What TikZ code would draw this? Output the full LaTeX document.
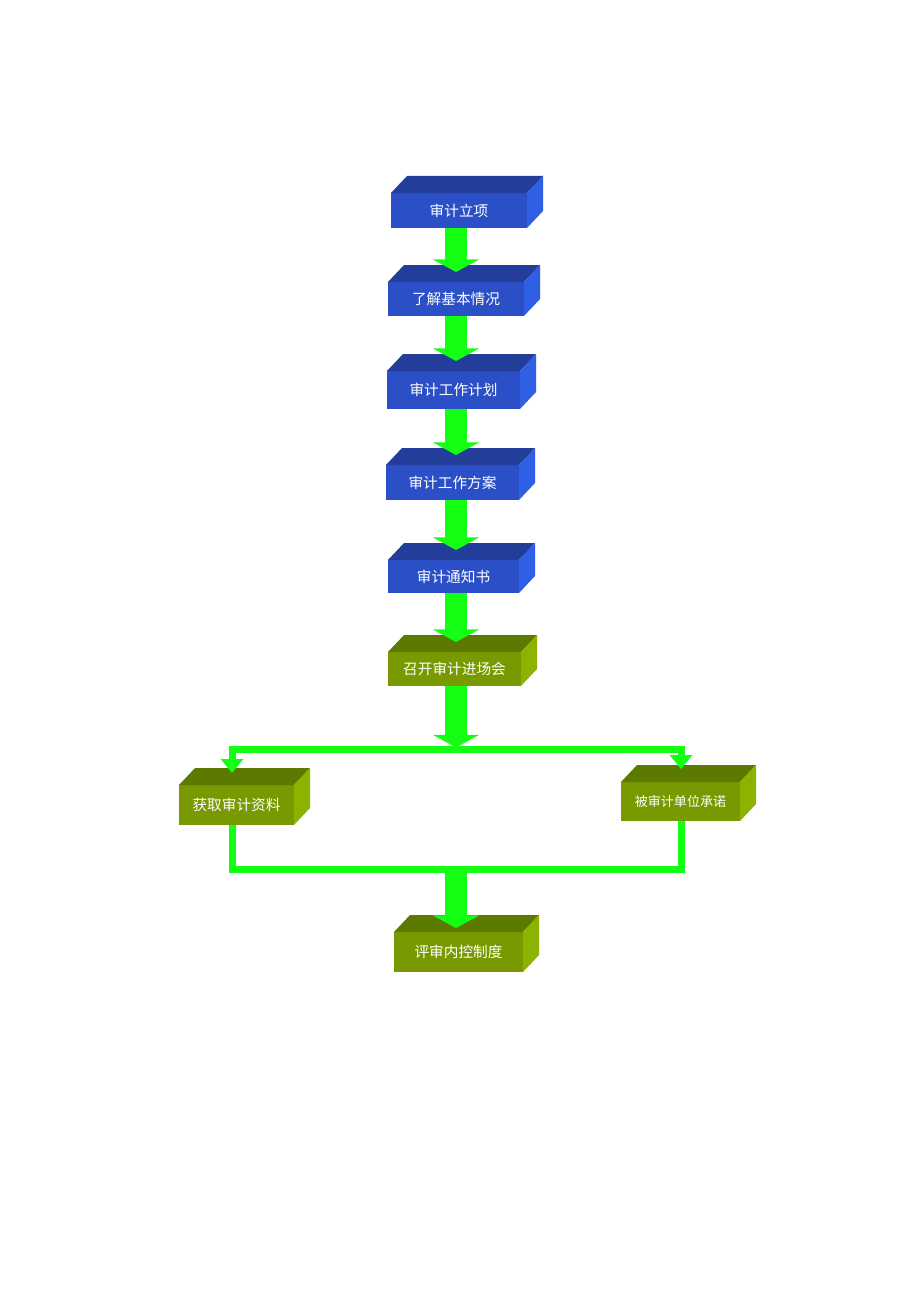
\documentclass[tikz,border=0pt]{standalone}
\usepackage{fontspec}
\newfontfamily\cjk{Noto Sans CJK SC}
\usetikzlibrary{calc,arrows.meta}
\definecolor{bfront}{HTML}{2B4FC6}
\definecolor{btop}{HTML}{223D9A}
\definecolor{bside}{HTML}{2F5FE4}
\definecolor{gfront}{HTML}{789A00}
\definecolor{gtop}{HTML}{5D7A00}
\definecolor{gside}{HTML}{8BB300}
\definecolor{agreen}{HTML}{14FF14}
\tikzset{
  front/.style={inner sep=0pt, outer sep=0pt, text=white, font=\cjk\fontsize{11pt}{13pt}\selectfont},
  bluebox/.style={front, fill=bfront},
  greenbox/.style={front, fill=gfront},
  bigarrow/.style={draw=agreen, line width=16.5pt, -{Triangle[width=34.5pt,length=9.5pt]}},
  conn/.style={draw=agreen, line width=5.25pt, line join=miter},
  connarrow/.style={conn, -{Triangle[width=16.5pt,length=10.5pt]}}
}
\newcommand\cubefaces[3]{%
  \fill[#2] (#1.north west) -- ++(16,-17) -- ($(#1.north east)+(16,-17)$) -- (#1.north east) -- cycle;
  \fill[#3] (#1.north east) -- ++(16,-17) -- ($(#1.south east)+(16,-17)$) -- (#1.south east) -- cycle;
}
\begin{document}
\begin{tikzpicture}[x=0.75pt,y=-0.75pt]
\useasboundingbox (0,0) rectangle (920,1302);
\fill[white] (0,0) rectangle (920,1302);
\coordinate (ax) at (456,0);
% boxes
\node[bluebox, minimum width=102pt, minimum height=26.25pt] (b1) at (459,210.5) {审计立项};
\cubefaces{b1}{btop}{bside}
\node[bluebox, minimum width=102pt, minimum height=25.5pt] (b2) at (456,299) {了解基本情况};
\cubefaces{b2}{btop}{bside}
\node[bluebox, minimum width=99.75pt, minimum height=28.5pt] (b3) at (453.5,390) {审计工作计划};
\cubefaces{b3}{btop}{bside}
\node[bluebox, minimum width=99.75pt, minimum height=26.25pt] (b4) at (452.5,482.5) {审计工作方案};
\cubefaces{b4}{btop}{bside}
\node[bluebox, minimum width=98.25pt, minimum height=24.75pt] (b5) at (453.5,576.5) {审计通知书};
\cubefaces{b5}{btop}{bside}
\node[greenbox, minimum width=99.75pt, minimum height=25.5pt] (b6) at (454.5,669) {召开审计进场会};
\cubefaces{b6}{gtop}{gside}
\node[greenbox, minimum width=86.25pt, minimum height=30pt] (b7) at (236.5,805) {获取审计资料};
\cubefaces{b7}{gtop}{gside}
\node[greenbox, minimum width=89.25pt, minimum height=29.25pt, font=\cjk\fontsize{9.8pt}{12pt}\selectfont] (b8) at (680.5,801.5) {被审计单位承诺};
\cubefaces{b8}{gtop}{gside}
\node[greenbox, minimum width=96.75pt, minimum height=30pt] (b9) at (458.5,952) {评审内控制度};
\cubefaces{b9}{gtop}{gside}
% junctions
\coordinate (jt) at (456,749.5);
\coordinate (jb) at (456,869.5);
\coordinate (lx) at (232,0);
\coordinate (rx) at (681,0);
% main arrows
\draw[bigarrow] (b1.south -| ax) -- ($(b2.north -| ax)+(0,-10)$);
\draw[bigarrow] (b2.south -| ax) -- ($(b3.north -| ax)+(0,-10)$);
\draw[bigarrow] (b3.south -| ax) -- ($(b4.north -| ax)+(0,-10)$);
\draw[bigarrow] (b4.south -| ax) -- ($(b5.north -| ax)+(0,-10)$);
\draw[bigarrow] (b5.south -| ax) -- ($(b6.north -| ax)+(0,-10)$);
\draw[bigarrow] (b6.south -| ax) -- ($(jt)+(0,-2)$);
% split
\draw[connarrow] ($(jt)+(0,0)$) -| ($(b7.north -| lx)+(0,-12)$);
\draw[connarrow] ($(jt)+(0,0)$) -| ($(b8.north -| rx)+(0,-13)$);
% merge
\draw[conn] (b7.south -| lx) |- (jb) -| (b8.south -| rx);
\draw[bigarrow] ($(jb)+(0,3)$) -- ($(b9.north -| ax)+(0,-4)$);
\end{tikzpicture}
\end{document}
